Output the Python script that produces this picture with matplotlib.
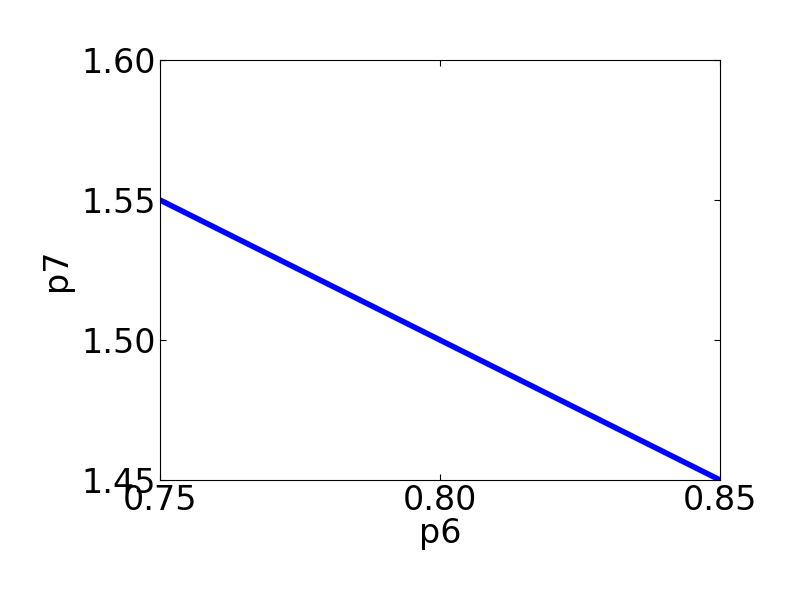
import numpy as np
import matplotlib
matplotlib.use("Agg")
import matplotlib.pyplot as plt

# data
p6 = [0.75, 0.85]
p7 = [1.55, 1.45]
xticks = [0.75, 0.80, 0.85]
yticks = [1.45, 1.50, 1.55, 1.60]

fig = plt.figure(figsize=(8, 6), dpi=100)
ax = fig.add_axes([0.2, 0.2, 0.7, 0.7])
ax.plot(p6, p7, color='blue', linewidth=4)
ax.set_xlim(0.75, 0.85)
ax.set_ylim(1.45, 1.60)
ax.set_xticks(xticks)
ax.set_yticks(yticks)
ax.set_xticklabels(['%.2f' % v for v in xticks])
ax.set_yticklabels(['%.2f' % v for v in yticks])
ax.tick_params(direction='in', length=4.5, width=0.8, top=True, right=True,
               labelsize=24, pad=3)
ax.set_xlabel('p6', fontsize=24, labelpad=0)
ax.set_ylabel('p7', fontsize=24, labelpad=6)

fig.savefig('out.png', dpi=100)
